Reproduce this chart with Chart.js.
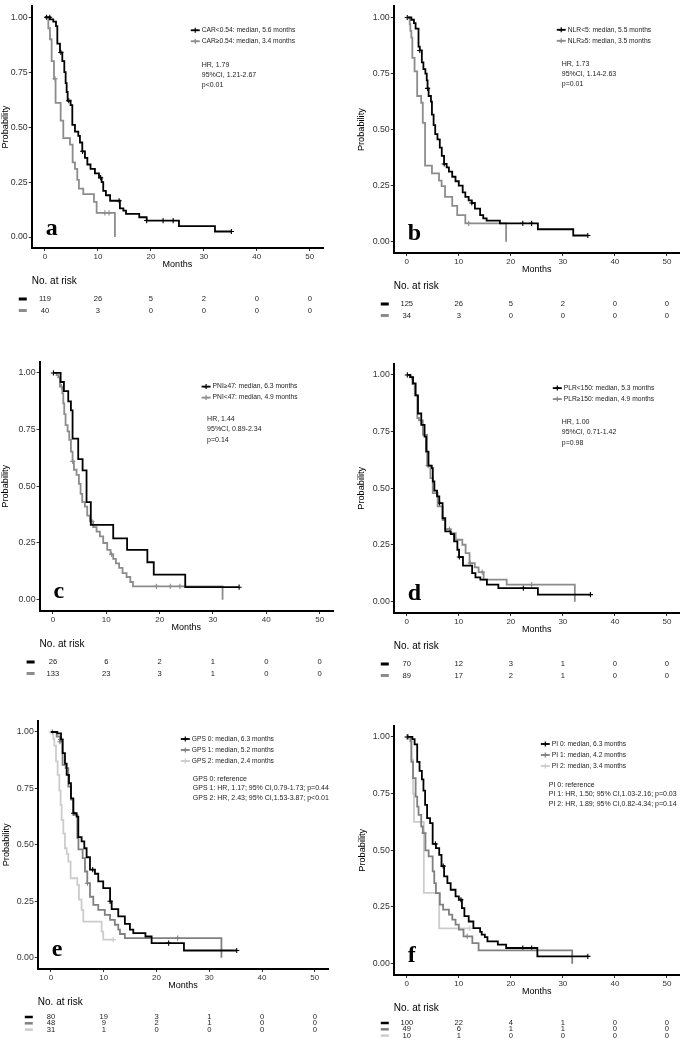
<!DOCTYPE html>
<html>
<head>
<meta charset="utf-8">
<script src="https://cdn.jsdelivr.net/npm/chart.js@4.4.1/dist/chart.umd.min.js"></script>
<style>
  html, body { margin: 0; padding: 0; background: #fff; }
  #fig { position: relative; width: 685px; height: 1042px; overflow: hidden; }
  canvas { position: absolute; }
</style>
</head>
<body>
<div id="fig"></div>
<script>
const xTicks = [0, 10, 20, 30, 40, 50];
const yTicks = [0, 0.25, 0.5, 0.75, 1];

// a: CAR
const aNames = ['CAR<0.54: median, 5.6 months', 'CAR\u22650.54: median, 3.4 months'];
const aStats = ['HR, 1.79', '95%CI, 1.21-2.67', 'p<0.01'];
const aT0 = [0.94, 1.57, 2.08, 2.33, 2.83, 3.27, 3.65, 3.9, 4.09, 4.28, 4.84, 5.16, 5.66, 6.29, 6.6, 7.04, 7.55, 8.0, 8.6, 9.43, 10.2, 10.7, 11.0, 11.5, 12.3, 14.15, 14.8, 15.3, 17.8, 19.2, 25.3, 32.1];
const aS0 = [0.99, 0.98, 0.96, 0.88, 0.84, 0.80, 0.75, 0.70, 0.66, 0.62, 0.60, 0.51, 0.48, 0.46, 0.43, 0.39, 0.36, 0.33, 0.31, 0.29, 0.27, 0.25, 0.21, 0.19, 0.165, 0.13, 0.12, 0.105, 0.09, 0.075, 0.05, 0.025];
const aC0 = [0.3, 0.9, 3.0, 4.5, 7.1, 10.5, 14.0, 19.2, 22.3, 24.2, 35.2];
const aT1 = [0.63, 0.94, 1.26, 1.7, 2.0, 2.96, 3.46, 4.72, 5.22, 5.66, 6.1, 6.4, 7.23, 9.25, 9.75, 13.2];
const aS1 = [0.95, 0.90, 0.80, 0.72, 0.61, 0.53, 0.45, 0.42, 0.34, 0.31, 0.26, 0.22, 0.195, 0.16, 0.11, 0];
const aC1 = [1.9, 11.3, 12.1];
const aRisk0 = [119, 26, 5, 2, 0, 0];
const aRisk1 = [40, 3, 0, 0, 0, 0];

// b: NLR
const bNames = ['NLR<5: median, 5.5 months', 'NLR\u22655: median, 3.5 months'];
const bStats = ['HR, 1.73', '95%CI, 1.14-2.63', 'p=0.01'];
const bT0 = [0.88, 1.38, 1.7, 2.26, 2.5, 2.9, 3.2, 3.58, 3.84, 4.0, 4.2, 4.65, 4.84, 5.16, 5.47, 5.9, 6.35, 6.73, 7.17, 7.67, 8.1, 8.74, 9.37, 10.0, 10.75, 11.26, 11.9, 12.5, 13.1, 14.1, 14.7, 15.35, 17.9, 25.2, 32.0];
const bS0 = [0.99, 0.975, 0.95, 0.87, 0.853, 0.80, 0.77, 0.75, 0.72, 0.684, 0.65, 0.625, 0.567, 0.52, 0.48, 0.457, 0.42, 0.383, 0.347, 0.332, 0.313, 0.29, 0.27, 0.25, 0.22, 0.20, 0.185, 0.173, 0.148, 0.119, 0.104, 0.094, 0.082, 0.056, 0.028];
const bC0 = [0.1, 2.5, 4.0, 7.2, 12.5, 22.3, 24.0, 34.8];
const bT1 = [0.57, 0.69, 0.88, 1.07, 1.5, 2.0, 2.77, 3.08, 3.52, 4.84, 6.2, 6.7, 7.36, 8.74, 9.7, 11.26, 19.1];
const bS1 = [0.97, 0.94, 0.91, 0.82, 0.76, 0.65, 0.62, 0.53, 0.34, 0.305, 0.273, 0.248, 0.20, 0.16, 0.119, 0.082, 0];
const bC1 = [11.9];
const bRisk0 = [125, 26, 5, 2, 0, 0];
const bRisk1 = [34, 3, 0, 0, 0, 0];

// c: PNI
const cNames = ['PNI\u226547: median, 6.3 months', 'PNI<47: median, 4.9 months'];
const cStats = ['HR, 1.44', '95%CI, 0.89-2.34', 'p=0.14'];
const cT0 = [1.44, 2.06, 2.87, 3.37, 3.68, 4.74, 5.56, 6.3, 7.1, 11.3, 13.9, 17.7, 18.9, 24.8];
const cS0 = [0.96, 0.92, 0.875, 0.835, 0.71, 0.62, 0.57, 0.43, 0.33, 0.27, 0.22, 0.165, 0.11, 0.055];
const cC0 = [0.1, 34.9];
const cT1 = [0.69, 1.0, 1.31, 1.75, 1.94, 2.12, 2.37, 2.75, 3.06, 3.37, 3.68, 3.93, 4.43, 4.87, 5.18, 5.49, 5.99, 6.43, 6.93, 7.55, 8.18, 8.8, 9.43, 10.17, 10.8, 11.3, 11.8, 12.4, 13.05, 13.8, 14.5, 15.0, 31.8];
const cS1 = [0.99, 0.98, 0.94, 0.91, 0.866, 0.818, 0.77, 0.742, 0.705, 0.653, 0.61, 0.573, 0.55, 0.511, 0.467, 0.43, 0.41, 0.371, 0.345, 0.32, 0.30, 0.279, 0.25, 0.22, 0.20, 0.18, 0.16, 0.14, 0.117, 0.10, 0.078, 0.059, 0];
const cC1 = [1.6, 3.7, 7.3, 11.0, 19.4, 22.0, 23.8];
const cRisk0 = [26, 6, 2, 1, 0, 0];
const cRisk1 = [133, 23, 3, 1, 0, 0];

// d: PLR
const dNames = ['PLR<150: median, 5.3 months', 'PLR\u2265150: median, 4.9 months'];
const dStats = ['HR, 1.00', '95%CI, 0.71-1.42', 'p=0.98'];
const dT0 = [0.63, 1.2, 1.7, 2.15, 2.78, 3.41, 3.72, 4.17, 4.8, 5.0, 5.3, 5.81, 6.25, 6.88, 7.39, 8.46, 9.09, 9.72, 10.04, 10.8, 12.56, 13.2, 14.14, 15.4, 17.6, 25.2];
const dS0 = [0.99, 0.963, 0.91, 0.83, 0.78, 0.728, 0.662, 0.60, 0.589, 0.53, 0.49, 0.464, 0.435, 0.368, 0.31, 0.298, 0.266, 0.229, 0.197, 0.159, 0.126, 0.107, 0.097, 0.075, 0.06, 0.031];
const dC0 = [0.1, 6.3, 10.1, 22.4, 35.3];
const dT1 = [0.69, 1.07, 1.52, 2.02, 2.34, 3.09, 3.91, 4.55, 4.99, 5.93, 6.88, 7.39, 8.33, 9.4, 10.67, 11.3, 12.06, 13.07, 13.8, 14.77, 19.2, 32.3];
const dS1 = [0.99, 0.96, 0.91, 0.81, 0.80, 0.736, 0.60, 0.545, 0.479, 0.42, 0.36, 0.32, 0.302, 0.273, 0.251, 0.214, 0.17, 0.151, 0.13, 0.097, 0.075, 0];
const dC1 = [0.9, 4.1, 8.2, 12.2, 14.5, 24.0];
const dRisk0 = [70, 12, 3, 1, 0, 0];
const dRisk1 = [89, 17, 2, 1, 0, 0];

// e: GPS
const eNames = ['GPS 0: median, 6.3 months', 'GPS 1: median, 5.2 months', 'GPS 2: median, 2.4 months'];
const eStats = ['GPS 0: reference', 'GPS 1: HR, 1.17; 95% CI,0.79-1.73; p=0.44', 'GPS 2: HR, 2.43; 95% CI,1.53-3.87; p<0.01'];
const eT0 = [1.2, 1.9, 2.2, 2.65, 2.97, 3.41, 3.79, 4.23, 4.86, 5.18, 5.8, 6.31, 6.75, 7.39, 8.33, 8.96, 9.9, 11.2, 11.5, 12.75, 14.0, 14.96, 15.6, 17.9, 19.07, 25.2];
const eS0 = [0.994, 0.967, 0.906, 0.86, 0.81, 0.773, 0.706, 0.64, 0.625, 0.534, 0.515, 0.485, 0.445, 0.39, 0.372, 0.338, 0.308, 0.25, 0.215, 0.183, 0.15, 0.124, 0.109, 0.094, 0.065, 0.032];
const eC0 = [1.9, 4.3, 7.9, 11.2, 22.3, 35.2];
const eT1 = [1.07, 1.7, 2.2, 2.78, 3.28, 3.79, 4.23, 4.99, 5.2, 6.0, 6.44, 6.88, 7.39, 8.02, 8.96, 10.2, 11.2, 12.1, 12.75, 13.07, 14.0, 32.3];
const eS1 = [0.98, 0.957, 0.854, 0.84, 0.758, 0.70, 0.633, 0.53, 0.48, 0.441, 0.382, 0.33, 0.27, 0.234, 0.212, 0.19, 0.168, 0.146, 0.124, 0.105, 0.087, 0];
const eC1 = [0.3, 1.7, 6.9, 24.0];
const eT2 = [0.44, 0.63, 0.95, 1.26, 1.58, 1.83, 2.02, 2.34, 2.65, 2.97, 3.28, 3.72, 4.99, 5.3, 5.8, 6.12, 9.6, 9.9];
const eS2 = [0.97, 0.94, 0.87, 0.81, 0.74, 0.677, 0.61, 0.55, 0.485, 0.46, 0.426, 0.352, 0.323, 0.257, 0.212, 0.16, 0.116, 0.08];
const eC2 = [0.0, 11.8];
const eRisk0 = [80, 19, 3, 1, 0, 0];
const eRisk1 = [48, 9, 2, 1, 0, 0];
const eRisk2 = [31, 1, 0, 0, 0, 0];

// f: PI
const fNames = ['PI 0: median, 6.3 months', 'PI 1: median, 4.2 months', 'PI 2: median, 3.4 months'];
const fStats = ['PI 0: reference', 'PI 1: HR, 1.50; 95% CI,1.03-2.16; p=0.03', 'PI 2: HR, 1.89; 95% CI,0.82-4.34; p=0.14'];
const fT0 = [1.07, 1.5, 2.0, 2.45, 2.9, 3.2, 3.52, 3.9, 4.47, 4.97, 5.6, 6.23, 6.67, 7.17, 7.8, 8.43, 9.37, 10.0, 10.6, 11.07, 11.9, 12.8, 14.1, 14.4, 15.0, 15.5, 17.5, 19.1, 25.1];
const fS0 = [0.99, 0.967, 0.89, 0.85, 0.813, 0.763, 0.70, 0.642, 0.62, 0.528, 0.51, 0.48, 0.43, 0.385, 0.355, 0.326, 0.297, 0.282, 0.245, 0.21, 0.186, 0.157, 0.14, 0.128, 0.117, 0.098, 0.084, 0.069, 0.032];
const fC0 = [0.1, 5.5, 7.0, 10.4, 22.3, 24.0, 34.8];
const fT1 = [0.69, 0.88, 1.2, 1.7, 2.0, 2.26, 2.77, 3.08, 3.58, 4.2, 4.97, 5.28, 5.6, 6.35, 6.98, 8.1, 8.74, 9.37, 10.0, 10.9, 12.6, 13.8, 31.8];
const fS1 = [0.98, 0.89, 0.818, 0.737, 0.693, 0.656, 0.605, 0.576, 0.50, 0.473, 0.407, 0.355, 0.311, 0.26, 0.238, 0.216, 0.194, 0.172, 0.15, 0.12, 0.091, 0.059, 0];
const fC1 = [0.3, 3.3, 11.6];
const fT2 = [0.88, 1.2, 1.38, 3.27, 6.23];
const fS2 = [0.9, 0.75, 0.625, 0.3125, 0.156];
const fC2 = [0.0, 12.1];
const fRisk0 = [100, 22, 4, 1, 0, 0];
const fRisk1 = [49, 6, 1, 1, 0, 0];
const fRisk2 = [10, 1, 0, 0, 0, 0];

const cols2 = ['#000000', '#8c8c8c'];
const cols3 = ['#000000', '#808080', '#cccccc'];
const SANS = '"Liberation Sans", Arial, sans-serif';

// box: canvas [left, top, w, h]; plot: [left, top, right, bottom] in page px
const panels = [
  { id: 'a', box: [0, 0, 342, 340], plot: [31.75, 0, 323, 248], ytitle: 5,
    leg: [159, 24], hr: [170, 59], hrGap: 10,
    names: aNames, stats: aStats,
    curves: [[aT0, aS0, aC0], [aT1, aS1, aC1]], risk: [aRisk0, aRisk1] },
  { id: 'b', box: [343, 0, 342, 340], plot: [393.75, 3.6, 685, 253], ytitle: 18,
    leg: [163, 23.5], hr: [168, 57.5], hrGap: 10,
    names: bNames, stats: bStats,
    curves: [[bT0, bS0, bC0], [bT1, bS1, bC1]], risk: [bRisk0, bRisk1] },
  { id: 'c', box: [0, 345, 342, 355], plot: [39.6, 361.6, 333, 611], ytitle: 5,
    leg: [162, 25], hr: [167.5, 57.5], hrGap: 10.3,
    names: cNames, stats: cStats,
    curves: [[cT0, cS0, cC0], [cT1, cS1, cC1]], risk: [cRisk0, cRisk1] },
  { id: 'd', box: [343, 345, 342, 355], plot: [393.8, 363.6, 684, 613], ytitle: 18,
    leg: [159, 24.5], hr: [168, 58.5], hrGap: 10.3,
    names: dNames, stats: dStats,
    curves: [[dT0, dS0, dC0], [dT1, dS1, dC1]], risk: [dRisk0, dRisk1] },
  { id: 'e', box: [0, 705, 342, 337], plot: [37.8, 720.7, 328, 969], ytitle: 6.5,
    leg: [143, 18.3], hr: [155, 58], hrGap: 9.5,
    names: eNames, stats: eStats,
    curves: [[eT0, eS0, eC0], [eT1, eS1, eC1], [eT2, eS2, eC2]], risk: [eRisk0, eRisk1, eRisk2] },
  { id: 'f', box: [343, 705, 342, 337], plot: [393.8, 725.6, 685, 975], ytitle: 19,
    leg: [147, 18.4], hr: [155, 59.4], hrGap: 9.3,
    names: fNames, stats: fStats,
    curves: [[fT0, fS0, fC0], [fT1, fS1, fC1], [fT2, fS2, fC2]], risk: [fRisk0, fRisk1, fRisk2] }
];

function survAt(T, S, t) {
  let s = 1;
  for (let i = 0; i < T.length; i++) if (T[i] <= t) s = S[i];
  return s;
}

function stepPts(T, S, C) {
  const pts = [{ x: 0, y: 1 }];
  T.forEach((t, i) => pts.push({ x: t, y: S[i] }));
  const last = T[T.length - 1];
  const end = Math.max(last, ...C);
  if (end > last) pts.push({ x: end, y: S[S.length - 1] });
  return pts;
}

function cross(ctx, x, y, r, col) {
  ctx.strokeStyle = col;
  ctx.lineWidth = 1.2;
  ctx.beginPath();
  ctx.moveTo(x - r, y); ctx.lineTo(x + r, y);
  ctx.moveTo(x, y - r); ctx.lineTo(x, y + r);
  ctx.stroke();
}

function decor(p, cols) {
  return {
    id: 'decor' + p.id,
    afterDraw(chart) {
      const ctx = chart.ctx, ca = chart.chartArea, xs = chart.scales.x;
      const n = p.curves.length;
      ctx.save();
      ctx.fillStyle = '#000';

      // axis titles
      ctx.save();
      ctx.translate(p.ytitle, (ca.top + ca.bottom) / 2);
      ctx.rotate(-Math.PI / 2);
      ctx.font = '9.2px ' + SANS;
      ctx.textAlign = 'center';
      ctx.textBaseline = 'middle';
      ctx.fillText('Probability', 0, 0);
      ctx.restore();

      ctx.font = '9px ' + SANS;
      ctx.textAlign = 'center';
      ctx.textBaseline = 'middle';
      ctx.fillText('Months', (ca.left + ca.right) / 2, ca.bottom + 17);

      // legend
      ctx.textAlign = 'left';
      ctx.font = '6.7px ' + SANS;
      p.names.forEach((name, i) => {
        const x0 = ca.left + p.leg[0], y0 = ca.top + p.leg[1] + i * 11;
        ctx.strokeStyle = cols[i];
        ctx.lineWidth = 1.8;
        ctx.beginPath(); ctx.moveTo(x0, y0); ctx.lineTo(x0 + 9, y0); ctx.stroke();
        cross(ctx, x0 + 4.5, y0, 2.5, cols[i]);
        ctx.fillStyle = '#222';
        ctx.fillText(name, x0 + 11, y0);
      });

      // hazard ratio text
      ctx.font = '7px ' + SANS;
      ctx.fillStyle = '#222';
      p.stats.forEach((s, i) => {
        ctx.fillText(s, ca.left + p.hr[0], ca.top + p.hr[1] + i * p.hrGap);
      });

      // panel letter
      ctx.font = 'bold 24px "Liberation Serif", "Times New Roman", serif';
      ctx.fillStyle = '#000';
      ctx.textBaseline = 'alphabetic';
      ctx.fillText(p.id, ca.left + 14, ca.bottom - 13);

      // number at risk table
      ctx.textBaseline = 'middle';
      ctx.font = '10px ' + SANS;
      ctx.fillText('No. at risk', ca.left, ca.bottom + 33);
      const rowY0 = n === 3 ? 48 : 51, rowGap = n === 3 ? 6.3 : 11.5;
      ctx.font = '7.6px ' + SANS;
      ctx.textAlign = 'center';
      p.risk.forEach((row, i) => {
        const y = ca.bottom + rowY0 + i * rowGap;
        ctx.strokeStyle = cols[i];
        ctx.lineWidth = n === 3 ? 2.5 : 3;
        ctx.beginPath(); ctx.moveTo(ca.left - 13, y); ctx.lineTo(ca.left - 5, y); ctx.stroke();
        ctx.fillStyle = '#222';
        row.forEach((v, j) => ctx.fillText(String(v), xs.getPixelForValue(xTicks[j]), y));
      });
      ctx.restore();
    }
  };
}

const fig = document.getElementById('fig');
panels.forEach(p => {
  const [bx, by, bw, bh] = p.box;
  const [pl, pt, pr, pb] = p.plot;
  const cv = document.createElement('canvas');
  cv.width = bw; cv.height = bh;
  cv.style.left = bx + 'px'; cv.style.top = by + 'px';
  cv.style.width = bw + 'px'; cv.style.height = bh + 'px';
  fig.appendChild(cv);
  const cols = p.curves.length === 3 ? cols3 : cols2;

  const datasets = [];
  p.curves.forEach((c, i) => datasets.push({
    data: stepPts(c[0], c[1], c[2]),
    borderColor: cols[i], borderWidth: 1.8, stepped: 'before',
    pointRadius: 0, fill: false
  }));
  p.curves.forEach((c, i) => datasets.push({
    data: c[2].map(t => ({ x: t, y: survAt(c[0], c[1], t) })),
    showLine: false, pointStyle: 'cross', pointRadius: 2.6,
    pointBorderColor: cols[i], pointBorderWidth: 1.1, borderColor: cols[i]
  }));

  new Chart(cv, {
    type: 'line',
    data: { datasets },
    options: {
      responsive: false, animation: false, devicePixelRatio: 1,
      layout: { padding: { left: 0, top: pt - by, right: bx + bw - pr, bottom: 0 } },
      plugins: { legend: { display: false }, tooltip: { enabled: false } },
      scales: {
        x: {
          type: 'linear', min: -2.5, max: 52.5,
          afterBuildTicks: s => { s.ticks = xTicks.map(v => ({ value: v })); },
          afterFit: s => { s.height = by + bh - pb; },
          ticks: { color: '#333', font: { size: 8, family: SANS }, padding: 1, maxRotation: 0, autoSkip: false },
          grid: { drawOnChartArea: false, tickLength: 3, color: '#333', lineWidth: 1 },
          border: { color: '#000', width: 2 }
        },
        y: {
          type: 'linear', min: -0.05, max: 1.05,
          afterBuildTicks: s => { s.ticks = yTicks.map(v => ({ value: v })); },
          afterFit: s => { s.width = pl - bx; },
          ticks: { color: '#333', font: { size: 8.8, family: SANS }, padding: 1, callback: v => v.toFixed(2) },
          grid: { drawOnChartArea: false, tickLength: 3, color: '#333', lineWidth: 1 },
          border: { color: '#000', width: 2 }
        }
      }
    },
    plugins: [decor(p, cols)]
  });
});
</script>
</body>
</html>
